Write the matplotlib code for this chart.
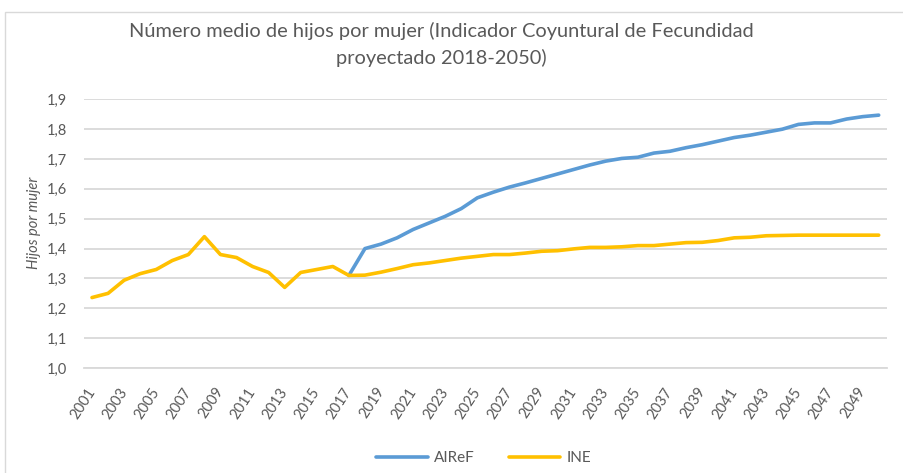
# Número medio de hijos por mujer - AIReF vs INE
import numpy as np
import matplotlib.pyplot as plt
import matplotlib.transforms as mtransforms
from matplotlib.patches import Rectangle

plt.rcParams['font.family'] = ['Lato', 'DejaVu Sans']

years = list(range(2001, 2051))

# INE series (historical 2001-2017 + projection)
ine = [1.236, 1.25, 1.294, 1.316, 1.33, 1.36, 1.38, 1.44, 1.38, 1.37,
       1.34, 1.32, 1.27, 1.32, 1.33, 1.34, 1.31, 1.311, 1.321, 1.333,
       1.346, 1.352, 1.36, 1.368, 1.374, 1.38, 1.38, 1.385, 1.391, 1.393,
       1.399, 1.404, 1.404, 1.406, 1.41, 1.41, 1.415, 1.42, 1.421, 1.427,
       1.436, 1.438, 1.443, 1.444, 1.445, 1.445, 1.445, 1.445, 1.445, 1.445]

# AIReF projection, from 2017
airef_years = list(range(2017, 2051))
airef = [1.31, 1.40, 1.415, 1.436, 1.464, 1.486, 1.508, 1.534, 1.57, 1.589,
         1.606, 1.62, 1.635, 1.65, 1.665, 1.68, 1.693, 1.702, 1.706, 1.72,
         1.726, 1.738, 1.748, 1.76, 1.772, 1.78, 1.79, 1.80, 1.816, 1.821,
         1.821, 1.834, 1.842, 1.847]

yticks = [1.0, 1.1, 1.2, 1.3, 1.4, 1.5, 1.6, 1.7, 1.8, 1.9]
xticks = years[::2]

txt = '#595959'
grid = '#D9D9D9'

fig = plt.figure(figsize=(9.04, 4.73), dpi=100)
fig.patches.append(Rectangle((5 / 904, -0.01), 1.0, 1 - 12 / 473 + 0.01,
                             transform=fig.transFigure, fill=False,
                             edgecolor=grid, linewidth=1.0))

ax = fig.add_axes([0.0929, 0.222, 0.888, 0.568])
ax.plot(airef_years, airef, color='#5B9BD5', linewidth=2.6, label='AIReF',
        solid_capstyle='round')
ax.plot(years, ine, color='#FFC000', linewidth=2.6, label='INE',
        solid_capstyle='round')

ax.set_xlim(2000.5, 2050.5)
ax.set_ylim(1.0, 1.9)
ax.set_yticks(yticks)
ax.set_yticklabels([f'{v:.1f}'.replace('.', ',') for v in yticks],
                   color=txt, fontsize=10.5)
ax.set_xticks(xticks)
ax.set_xticklabels([str(y) for y in xticks], rotation=57, color=txt,
                   fontsize=10.5, ha='right', va='center',
                   rotation_mode='anchor')
shift = mtransforms.ScaledTranslation(6 / 100, 0, fig.dpi_scale_trans)
for lab in ax.get_xticklabels():
    lab.set_transform(lab.get_transform() + shift)
ax.tick_params(axis='y', length=0, pad=12)
ax.tick_params(axis='x', length=0, pad=15)

ax.grid(axis='y', color=grid, linewidth=1.3)
ax.set_axisbelow(True)
for s in ['top', 'right', 'left']:
    ax.spines[s].set_visible(False)
ax.spines['bottom'].set_color(grid)
ax.spines['bottom'].set_linewidth(1.3)

ax.set_ylabel('Hijos por mujer', style='italic', color=txt, fontsize=10.5,
              labelpad=5)
ax.yaxis.set_label_coords(-0.054, 0.54)

fig.text(0.488, 0.935, 'Número medio de hijos por mujer (Indicador Coyuntural de Fecundidad',
         ha='center', va='center', fontsize=14.4, color=txt)
fig.text(0.488, 0.878, 'proyectado 2018-2050)', ha='center', va='center',
         fontsize=14.4, color=txt)

fig.legend(loc='center', bbox_to_anchor=(0.535, 0.032), ncol=2, frameon=False,
           fontsize=11, labelcolor=txt, handlelength=3.4, columnspacing=2.2,
           handletextpad=0.4)

fig.savefig('out.png', dpi=100)
